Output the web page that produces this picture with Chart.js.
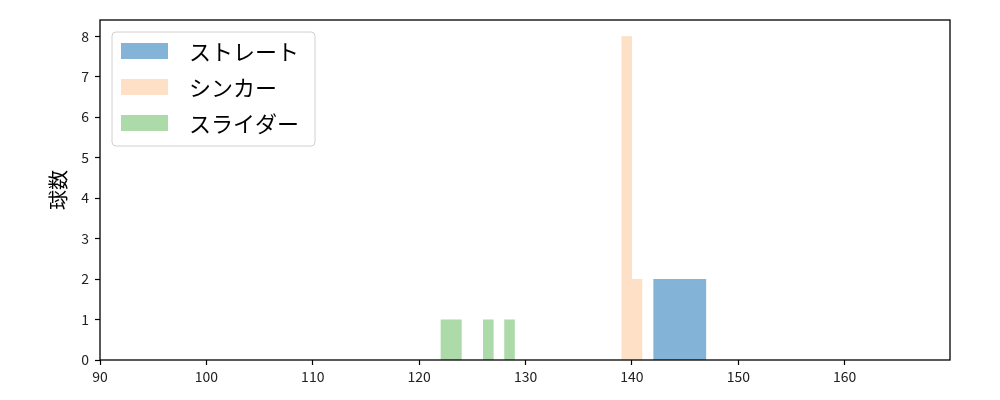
<!DOCTYPE html>
<html>
<head>
<meta charset="utf-8">
<script src="https://cdn.jsdelivr.net/npm/chart.js@4"></script>
<style>
	html, body { margin: 0; padding: 0; background: #fff; }
	#wrap { width: 1000px; height: 400px; }
</style>
</head>
<body>
<div id="wrap"><canvas id="chart" width="1000" height="400"></canvas></div>
<script>
// histogram bins per pitch type (left edge, right edge, count)
const seriesNames = ['ストレート', 'シンカー', 'スライダー'];
const straightLeft = [142], straightRight = [147], straightCount = [2];
const sinkerLeft = [139, 140], sinkerRight = [140, 141], sinkerCount = [8, 2];
const sliderLeft = [122, 126, 128], sliderRight = [124, 127, 129], sliderCount = [1, 1, 1];
const xTicks = [90, 100, 110, 120, 130, 140, 150, 160];
const yTicks = [0, 1, 2, 3, 4, 5, 6, 7, 8];

const colors = ['rgb(132,179,216)', 'rgb(253,224,197)', 'rgb(172,218,168)'];
const FONT = '"Noto Sans CJK JP", "Noto Sans", sans-serif';

// turn bins into a closed outline so the line fill draws each bar
const outline = (lefts, rights, counts) => {
	const pts = [];
	lefts.forEach((l, i) => {
		pts.push({x: l, y: 0}, {x: l, y: counts[i]}, {x: rights[i], y: counts[i]}, {x: rights[i], y: 0});
	});
	return pts;
};

const makeSet = (label, pts, color) => ({
	label,
	data: pts,
	borderWidth: 0,
	borderColor: color,
	backgroundColor: color,
	fill: 'origin',
	pointRadius: 0,
	tension: 0
});

const frameAndLegend = {
	id: 'frameAndLegend',
	afterDraw(chart) {
		const {ctx, chartArea: a} = chart;
		ctx.save();
		ctx.strokeStyle = '#000';
		ctx.lineWidth = 1.3;
		ctx.strokeRect(a.left, a.top, a.right - a.left, a.bottom - a.top);

		// legend box in the upper left corner
		const bx = 112, by = 32, bw = 203, bh = 114, r = 4;
		ctx.beginPath();
		ctx.roundRect(bx, by, bw, bh, r);
		ctx.fillStyle = 'rgba(255,255,255,0.8)';
		ctx.fill();
		ctx.strokeStyle = '#d0d0d0';
		ctx.lineWidth = 1;
		ctx.stroke();
		ctx.font = '22px ' + FONT;
		ctx.textBaseline = 'middle';
		chart.data.datasets.forEach((ds, i) => {
			const cy = 51 + i * 36;
			ctx.fillStyle = ds.backgroundColor;
			ctx.fillRect(121, cy - 8, 47, 16);
			ctx.fillStyle = '#000';
			ctx.fillText(ds.label, 189, cy + 1);
		});
		ctx.restore();
	}
};

const config = {
	type: 'line',
	data: {
		datasets: [
			makeSet(seriesNames[0], outline(straightLeft, straightRight, straightCount), colors[0]),
			makeSet(seriesNames[1], outline(sinkerLeft, sinkerRight, sinkerCount), colors[1]),
			makeSet(seriesNames[2], outline(sliderLeft, sliderRight, sliderCount), colors[2])
		]
	},
	options: {
		responsive: false,
		animation: false,
		layout: {padding: {top: 20, right: 50, left: 0, bottom: 0}},
		plugins: {
			legend: {display: false},
			tooltip: {enabled: false}
		},
		scales: {
			x: {
				type: 'linear',
				min: 90,
				max: 169.9,
				afterBuildTicks: scale => { scale.ticks = xTicks.map(v => ({value: v})); },
				afterFit: scale => { scale.height = 40; },
				grid: {drawOnChartArea: false, tickLength: 5, color: '#000', tickWidth: 1.2},
				border: {display: false},
				ticks: {
					color: '#222',
					padding: 3,
					maxRotation: 0,
					font: {family: FONT, size: 14}
				}
			},
			y: {
				type: 'linear',
				min: 0,
				max: 8.4,
				afterBuildTicks: scale => { scale.ticks = yTicks.map(v => ({value: v})); },
				afterFit: scale => { scale.width = 100; },
				grid: {drawOnChartArea: false, tickLength: 5, color: '#000', tickWidth: 1.2},
				border: {display: false},
				title: {
					display: true,
					text: '球数',
					color: '#000',
					padding: {top: 46, bottom: 4},
					font: {family: FONT, size: 20}
				},
				ticks: {
					color: '#222',
					padding: 6,
					font: {family: FONT, size: 14}
				}
			}
		}
	},
	plugins: [frameAndLegend]
};

new Chart(document.getElementById('chart'), config);
</script>
</body>
</html>
